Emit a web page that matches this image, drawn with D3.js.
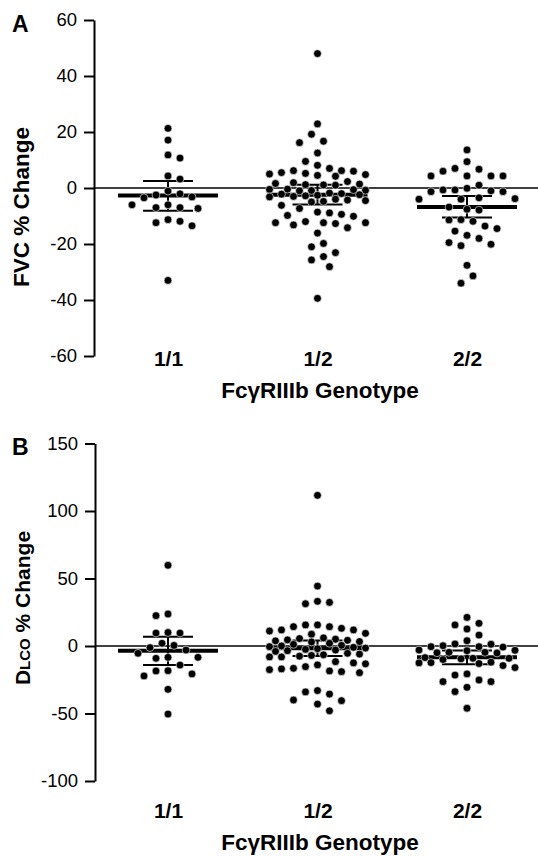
<!DOCTYPE html>
<html><head><meta charset="utf-8">
<script src="https://cdn.jsdelivr.net/npm/d3@7"></script>
<style>
body{margin:0;background:#fff}
svg{display:block}
text{font-family:"Liberation Sans",Arial,Helvetica,sans-serif;fill:#000}
</style>
</head><body>
<svg id="chart" width="538" height="856"></svg>
<script>
// ---------- data ----------
const categories = ["1/1", "1/2", "2/2"];

const fvc11 = [21.3, 17.1, 11.8, 10.7, 4.3, 3.2, -1.1, -2.1, -2.5, -3.2, -3.5, -6.0, -6.0, -7.0, -7.0, -7.3, -11.3, -11.9, -12.4, -13.5, -33.0];
const fvc12 = [48.0, 22.9, 19.2, 16.7, 16.2, 12.5, 9.5, 8.1, 7.0,
  6.2, 6.2, 6.0, 5.5, 5.2, 5.0, 4.8, 4.5, 4.2,
  2.3, 1.9, 1.6, 1.4, 1.2, 1.1, 1.0,
  -0.4, -0.5, -0.6, -0.8, -0.9, -1.0,
  -1.8, -2.0, -2.2, -2.4, -2.6, -2.8, -3.0, -3.2,
  -4.0, -4.3, -4.5, -4.8, -5.0,
  -6.2, -7.3,
  -8.6, -9.4, -10.1, -9.8, -8.9,
  -12.0, -12.4, -12.7, -14.2, -13.2, -12.4, -12.4,
  -16.1, -19.8, -21.0, -23.1, -25.7, -24.5, -28.1, -39.4];
const fvc22 = [13.6, 9.4, 7.0, 6.7, 6.0, 4.3, 4.3, 4.3, 4.3, 1.0, -0.1,
  -0.7, -1.3, -1.3, -1.0, -0.7,
  -3.5, -3.8, -4.0, -4.0,
  -6.8, -7.9, -7.6,
  -11.3, -11.9, -11.4, -13.6, -14.5, -15.4, -16.9, -18.0, -19.5, -20.1, -20.6,
  -27.6, -31.4, -34.0];

const dlco11 = [59.8, 22.5, 23.7, 9.6, 10.0, 9.6, 0.4, 2.0, -1.2, -3.0, -5.4, -8.4, -9.1, -8.4, -14.1, -18.5, -22.2, -20.7, -18.3, -32.1, -50.4];
const dlco12 = [111.6, 44.4, 33.1, 32.3, 31.3,
  15.6, 15.6, 14.3, 14.3, 13.1, 11.9, 11.9, 11.1,
  9.4, 8.7,
  6.0, 5.5, 5.0, 4.5, 4.2, 3.8, 3.3, 3.0,
  2.0, 1.2, 0.5, 0.0, -0.5, -1.0, -1.5, -2.0, -2.5, -3.0, -3.5, -4.0,
  -5.4, -6.0, -6.5, -7.0, -7.5, -8.1, -8.1,
  -11.6, -12.5, -13.2, -14.0,
  -15.3, -16.5, -17.5, -18.5, -19.8, -19.0, -17.0,
  -33.0, -35.6, -34.0, -40.0, -43.0, -40.5, -48.0];
const dlco22 = [21.2, 16.8, 15.6, 12.6, 8.1, 3.9, 1.5, 1.3, 0.2, -0.5, -0.5, -0.8,
  -3.0, -3.2, -3.5, -4.7, -4.7, -5.0, -5.2,
  -8.6, -9.1, -9.1, -9.5, -10.0,
  -12.0, -12.3, -12.5, -13.0, -14.5, -16.0,
  -20.7, -21.5, -25.2, -26.4, -26.4, -30.6, -33.8, -46.1];

const fvcMeans = [-2.7, -2.4, -6.8];
const fvcCILow = [-8.1, -5.9, -10.5];
const fvcCIHigh = [2.5, 1.2, -2.9];
const dlcoMeans = [-3.6, -1.7, -8.4];
const dlcoCILow = [-14.1, -7.4, -13.5];
const dlcoCIHigh = [6.9, 4.0, -3.3];

const fvcTicks = [-60, -40, -20, 0, 20, 40, 60];
const dlcoTicks = [-100, -50, 0, 50, 100, 150];

// ---------- drawing ----------
const svg = d3.select("#chart");
const FONT = '"Liberation Sans",Arial,Helvetica,sans-serif';
const x = d3.scalePoint().domain(categories).range([168, 467]);

function swarm(values, y, cx) {
  const pts = values.map(v => ({v, py: y(v)})).sort((a, b) => a.py - b.py);
  const placed = [];
  const D = 11.5, step = 6, maxK = 16;
  pts.forEach((p, i) => {
    const first = (i % 2 === 0) ? -1 : 1;
    let best = null, bestD = -1;
    for (let k = 0; k <= maxK; k++) {
      const off = k === 0 ? 0 : (k % 2 === 1 ? first : -first) * Math.ceil(k / 2) * step;
      let md = Infinity;
      placed.forEach(q => {
        const d = Math.hypot(q.off - off, q.py - p.py);
        if (d < md) md = d;
      });
      if (md >= D) { best = off; bestD = md; break; }
      if (md > bestD) { bestD = md; best = off; }
    }
    p.off = best;
    placed.push(p);
  });
  return placed.map(p => ({v: p.v, px: cx + p.off, py: p.py}));
}

function panel(cfg) {
  const y = d3.scaleLinear().domain(cfg.domain).range(cfg.range);
  const g = svg.append("g");

  // y axis
  const ax = g.append("g")
    .attr("transform", `translate(${cfg.axisX},0)`)
    .call(d3.axisLeft(y).tickValues(cfg.ticks).tickFormat(d => String(d))
      .tickSize(10).tickSizeOuter(0).tickPadding(7));
  ax.attr("font-family", FONT).attr("font-size", 18.5);
  ax.selectAll("path,line").attr("stroke", "#000").attr("stroke-width", 2);
  ax.selectAll("text").attr("fill", "#000");

  // zero line
  g.append("line")
    .attr("x1", cfg.axisX).attr("x2", 538)
    .attr("y1", y(0)).attr("y2", y(0))
    .attr("stroke", "#000").attr("stroke-width", 1.5);

  // category labels
  const xa = g.append("g")
    .attr("transform", `translate(0,${cfg.catBase})`)
    .call(d3.axisBottom(x).tickSize(0).tickPadding(0));
  xa.select(".domain").remove();
  xa.attr("font-family", FONT).attr("font-size", 21).attr("font-weight", "bold");
  xa.selectAll("text").attr("dy", null).attr("y", 0).attr("fill", "#000");

  // x title
  g.append("text").attr("x", 320).attr("y", cfg.titleBase)
    .attr("text-anchor", "middle").attr("font-size", 22.5).attr("font-weight", "bold")
    .text("FcγRIIIb Genotype");

  // panel letter
  g.append("text").attr("x", 12).attr("y", cfg.letterBase)
    .attr("font-size", 23).attr("font-weight", "bold").text(cfg.letter);

  // y title
  const yt = g.append("text")
    .attr("transform", `translate(${cfg.ytX},${cfg.ytY}) rotate(-90)`)
    .attr("text-anchor", "middle").attr("font-weight", "bold");
  cfg.ytitle(yt);

  // mean and CI
  categories.forEach((c, i) => {
    const cx = x(c);
    g.append("line").attr("x1", cx).attr("x2", cx)
      .attr("y1", y(cfg.lo[i])).attr("y2", y(cfg.hi[i]))
      .attr("stroke", "#000").attr("stroke-width", 2);
    [cfg.lo[i], cfg.hi[i]].forEach(v => {
      g.append("line").attr("x1", cx - 25).attr("x2", cx + 25)
        .attr("y1", y(v)).attr("y2", y(v))
        .attr("stroke", "#000").attr("stroke-width", 2);
    });
    g.append("line").attr("x1", cx - 50).attr("x2", cx + 50)
      .attr("y1", y(cfg.means[i])).attr("y2", y(cfg.means[i]))
      .attr("stroke", "#000").attr("stroke-width", 4);
  });

  // dots
  cfg.series.forEach((vals, i) => {
    const pts = swarm(vals, y, x(categories[i]));
    g.append("g").selectAll("circle").data(pts).join("circle")
      .attr("cx", d => d.px).attr("cy", d => d.py).attr("r", 3.9)
      .attr("fill", "#000").attr("stroke", "#fff").attr("stroke-width", 0.6);
  });
}

panel({
  domain: [-60, 60], range: [356, 20], ticks: fvcTicks, axisX: 94,
  series: [fvc11, fvc12, fvc22], means: fvcMeans, lo: fvcCILow, hi: fvcCIHigh,
  catBase: 366, titleBase: 398, letter: "A", letterBase: 32,
  ytX: 29, ytY: 207,
  ytitle: t => t.attr("font-size", 22.5).text("FVC % Change")
});

panel({
  domain: [-100, 150], range: [781, 443.5], ticks: dlcoTicks, axisX: 95,
  series: [dlco11, dlco12, dlco22], means: dlcoMeans, lo: dlcoCILow, hi: dlcoCIHigh,
  catBase: 818, titleBase: 850, letter: "B", letterBase: 455,
  ytX: 30, ytY: 608,
  ytitle: t => {
    t.append("tspan").attr("font-size", 21).text("D");
    t.append("tspan").attr("font-size", 15).text("LCO");
    t.append("tspan").attr("font-size", 21).text(" % Change");
  }
});
</script>
</body></html>
